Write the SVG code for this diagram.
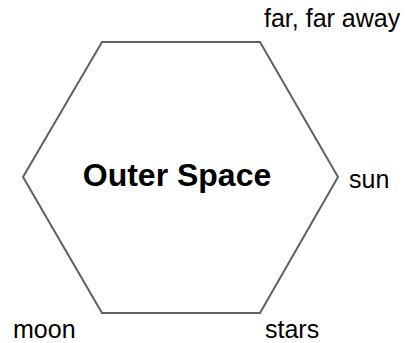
<svg xmlns="http://www.w3.org/2000/svg" width="407" height="343" viewBox="0 0 407 343">
<style>
.lbl{font-family:"Liberation Sans",Arial,sans-serif;font-size:25px;fill:#000}
.title{font-family:"Liberation Sans",Arial,sans-serif;font-size:32px;font-weight:bold;fill:#000}
.hex{fill:#fff;stroke:#606060;stroke-width:2;stroke-linejoin:miter}
</style>
<rect width="407" height="343" fill="#fff"/>
<g id="outer-space">
<polygon class="hex" points="102,42 260,42 338,177 260,313 102,313 23,177"/>
<text class="title" x="177" y="186" text-anchor="middle">Outer Space</text>
</g>
<g id="far-far-away"><text class="lbl" x="264" y="27">far, far away</text></g>
<g id="sun"><text class="lbl" x="349" y="188">sun</text></g>
<g id="moon"><text class="lbl" x="13" y="338">moon</text></g>
<g id="stars"><text class="lbl" x="265" y="338">stars</text></g>
<g id="connectors"></g>
</svg>
